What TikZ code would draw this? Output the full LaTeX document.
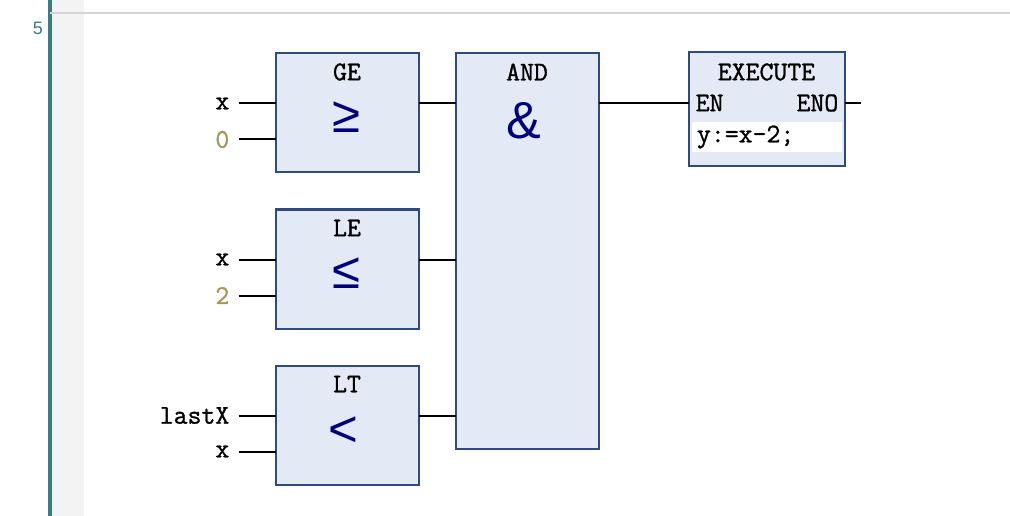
\documentclass[tikz,border=0pt]{standalone}
\usepackage{fontspec}
\newfontfamily\opfont{Liberation Sans}
\newfontfamily\plcfont{Latin Modern Mono}[FakeBold=1.2]
\usetikzlibrary{positioning}
\definecolor{railteal}{HTML}{357F7F}
\definecolor{gutter}{HTML}{F3F3F3}
\definecolor{gridline}{HTML}{D4D4D4}
\definecolor{fbfill}{HTML}{E3E9F5}
\definecolor{fbborder}{HTML}{2F4A7C}
\definecolor{fbop}{HTML}{00007F}
\definecolor{fbconst}{HTML}{A89858}

\tikzset{
  fblock/.style={draw=fbborder, fill=fbfill, line width=2pt, inner sep=0pt, outer sep=0pt,
    minimum width=143pt, minimum height=119pt},
  fbtitle/.style={inner sep=0pt, font=\plcfont\fontsize{27}{30}\selectfont},
  fbsym/.style={inner sep=0pt, text=fbop, font=\opfont\fontsize{51}{56}\selectfont},
  fbin/.style={inner sep=0pt, font=\plcfont\fontsize{27}{30}\selectfont},
  fbconstin/.style={fbin, text=fbconst},
  wire/.style={line width=2pt, black},
}

\begin{document}
\begin{tikzpicture}[x=1pt,y=-1pt]
\useasboundingbox (0,0) rectangle (1010,516);
\fill[white] (0,0) rectangle (1010,516);
% editor gutter
\fill[gutter] (52,0) rectangle (84,516);
\fill[railteal] (48,0) rectangle (52,516);
\draw[gridline, line width=2pt] (50,13) -- (1010,13);
\node[inner sep=0pt, text=railteal, font=\opfont\fontsize{18}{20}\selectfont] (rung) at (38,28) {5};

% comparator blocks
\node[fblock] (ge) at (347,113) {};
\node[fbtitle] (ge-t) at (347,72) {GE};
\node[fbsym] (ge-op) at (346,117) {≥};
\coordinate (ge-i1) at ([yshift=-50pt]ge.north west);
\coordinate (ge-i2) at ([yshift=-86pt]ge.north west);
\coordinate (ge-o) at ([yshift=-50pt]ge.north east);

\node[fblock] (le) at (347,269) {};
\node[fbtitle] (le-t) at (347,228) {LE};
\node[fbsym] (le-op) at (346,273) {≤};
\coordinate (le-i1) at ([yshift=-50pt]le.north west);
\coordinate (le-i2) at ([yshift=-86pt]le.north west);
\coordinate (le-o) at ([yshift=-50pt]le.north east);

\node[fblock] (lt) at (347,425) {};
\node[fbtitle] (lt-t) at (347,384) {LT};
\node[fbsym] (lt-op) at (343,432) {<};
\coordinate (lt-i1) at ([yshift=-50pt]lt.north west);
\coordinate (lt-i2) at ([yshift=-86pt]lt.north west);
\coordinate (lt-o) at ([yshift=-50pt]lt.north east);

% inputs
\node[fbin, left=46pt of ge-i1] (ge-x) {x};
\node[fbconstin, left=46pt of ge-i2] (ge-c) {0};
\node[fbin, left=46pt of le-i1] (le-x) {x};
\node[fbconstin, left=46pt of le-i2] (le-c) {2};
\node[fbin, left=46pt of lt-i1] (lt-last) {lastX};
\node[fbin, left=46pt of lt-i2] (lt-x) {x};
\draw[wire, shorten <=9pt] (ge-x.east) -- (ge-i1);
\draw[wire, shorten <=9pt] (ge-c.east) -- (ge-i2);
\draw[wire, shorten <=9pt] (le-x.east) -- (le-i1);
\draw[wire, shorten <=9pt] (le-c.east) -- (le-i2);
\draw[wire, shorten <=9pt] (lt-last.east) -- (lt-i1);
\draw[wire, shorten <=9pt] (lt-x.east) -- (lt-i2);

% AND block
\node[fblock, minimum height=396pt] (and) at (527,251) {};
\node[fbtitle] (and-t) at (527,72) {AND};
\node[fbsym, font=\opfont\fontsize{52}{56}\selectfont] (and-op) at (524,121) {\&};
\coordinate (and-o) at ([yshift=-50pt]and.north east);
\draw[wire] (ge-o) -- (ge-o -| and.west);
\draw[wire] (le-o) -- (le-o -| and.west);
\draw[wire] (lt-o) -- (lt-o -| and.west);

% EXECUTE block
\node[fblock, minimum width=156pt, minimum height=114pt] (exec) at (766.5,109.5) {};
\node[fbtitle] (exec-t) at (766.5,72) {EXECUTE};
\coordinate (exec-i) at (and-o -| exec.west);
\coordinate (exec-o) at (and-o -| exec.east);
\coordinate (exec-end) at ([xshift=16pt]exec-o);
\node[fbin, right=7pt of exec-i] (exec-en) {EN};
\node[fbin, left=6pt of exec-o] (exec-eno) {ENO};
\node[fill=white, inner xsep=5pt, inner ysep=0pt, text width=140pt, align=left,
  minimum height=30pt, font=\plcfont\fontsize{27}{30}\selectfont] (exec-code) at (767,137) {y:=x-2;};
\draw[wire] (and-o) -- (exec-i);
\draw[wire] (exec-o) -- (exec-end);
\end{tikzpicture}
\end{document}
